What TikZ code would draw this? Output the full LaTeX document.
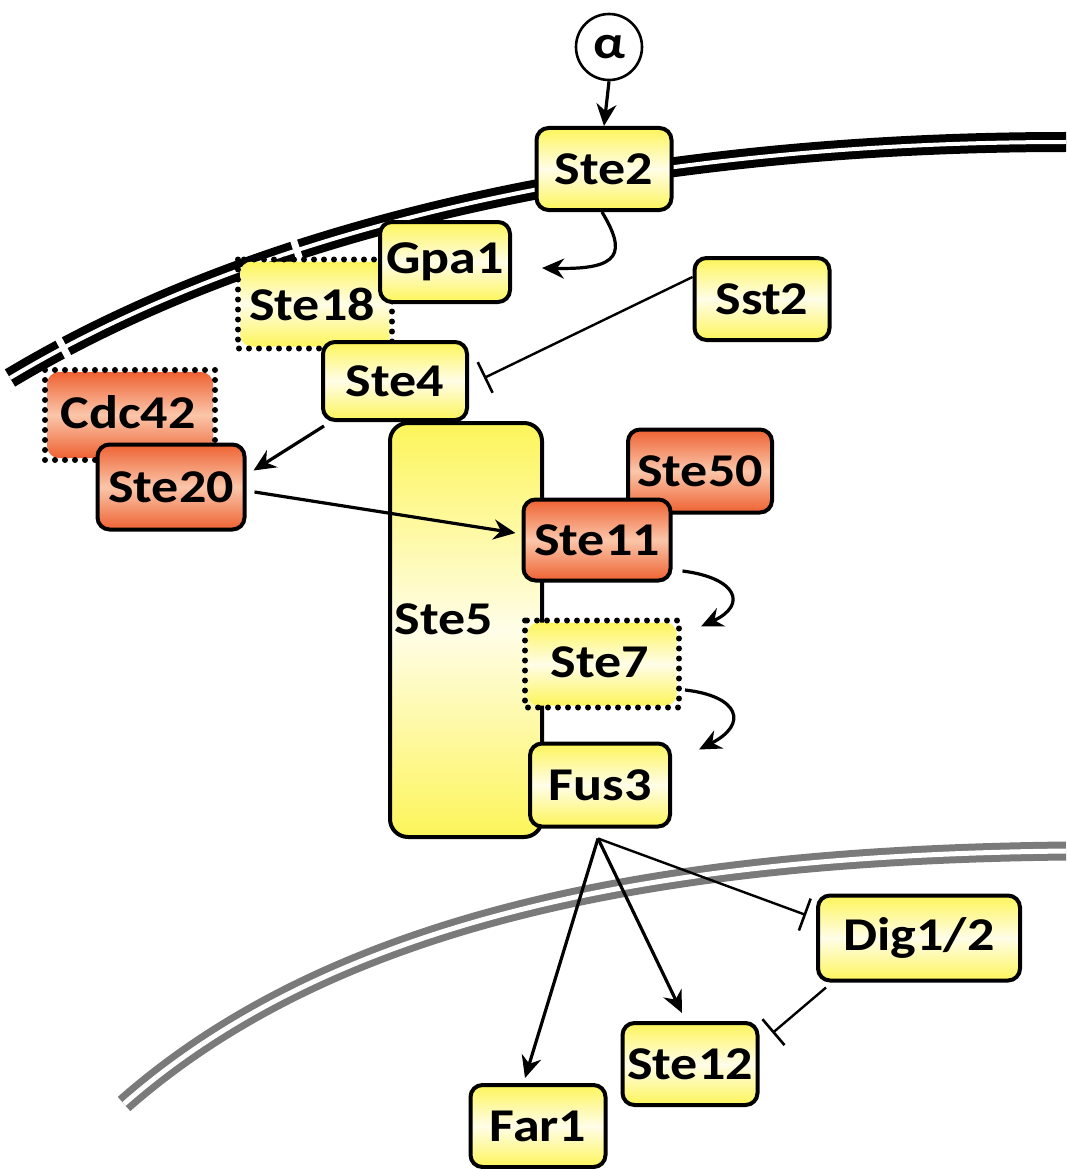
\documentclass[tikz,border=0pt]{standalone}
\usepackage{fontspec}
\setmainfont{Carlito}
\newfontfamily\lblfont[FakeStretch=1.15]{Carlito}
\usetikzlibrary{arrows.meta,shapes.geometric,calc}
\definecolor{yel}{HTML}{FDF55A}
\definecolor{yelc}{HTML}{FFFDE8}
\definecolor{org}{HTML}{EE6232}
\definecolor{orgc}{HTML}{FBC6AA}
\definecolor{nucgray}{HTML}{7A7A7A}
\tikzset{
  x=1pt,y=-1pt,
  lbl/.style={font=\lblfont\bfseries\fontsize{47}{52}\selectfont},
  prot/.style={lbl,draw=black,line width=4pt,rounded corners=12pt,inner sep=0pt},
  yprot/.style={prot,top color=yel,bottom color=yel,middle color=yelc},
  oprot/.style={prot,top color=org,bottom color=org,middle color=orgc},
  dotbox/.style={dash pattern=on 0pt off 10pt,line cap=round,line width=6pt},
  act/.style={line width=3.2pt,-{Stealth[length=22pt,width=20pt]}},
  inh/.style={line width=2.4pt,-{Bar[width=34pt,line width=2.6pt]}},
  gapmark/.style={fill=white,inner sep=0pt,minimum width=7pt,minimum height=34pt,sloped},
}
\begin{document}
\begin{tikzpicture}
\useasboundingbox[fill=white] (0,0) rectangle (1066,1169);
% plasma membrane
\draw[line width=8pt,double=white,double distance=4pt]
  (1066,142) .. controls (700,142) and (300,204) .. (10,378)
  node[gapmark,pos=0.70] (gapA) {}
  node[gapmark,pos=0.94] (gapB) {};
% nuclear membrane
\draw[line width=7pt,nucgray,double=white,double distance=5pt]
  (1066,851) .. controls (700,855) and (350,905) .. (124,1104);
% alpha factor
\node[lbl,draw,circle,line width=2.6pt,fill=white,minimum size=66pt,inner sep=0pt] (alpha) at (609,47) {α};
% nodes
\node[yprot,minimum width=135pt,minimum height=82pt] (Ste2) at (604,169) {Ste2};
\node[yprot,draw=none,minimum width=150pt,minimum height=85pt] (Ste18) at (315,304) {};
\draw[dotbox] (Ste18.north west) rectangle (Ste18.south east);
\node[lbl] (Ste18t) at (312,304) {Ste18};
\node[yprot,minimum width=130pt,minimum height=80pt] (Gpa1) at (445,262) {Gpa1};
\node[yprot,minimum width=135pt,minimum height=82pt] (Sst2) at (762,299) {Sst2};
\node[yprot,minimum width=152pt,minimum height=414pt,rounded corners=18pt] (Ste5) at (466,630) {};
\node[lbl,anchor=west] (Ste5t) at (391,619) {Ste5};
\node[yprot,minimum width=144pt,minimum height=78pt] (Ste4) at (395,381) {Ste4};
\node[oprot,draw=none,minimum width=166pt,minimum height=86pt] (Cdc42) at (130,415) {};
\draw[dotbox] (Cdc42.north west) rectangle (Cdc42.south east);
\node[lbl] (Cdc42t) at (128,412) {Cdc42};
\node[oprot,minimum width=147pt,minimum height=85pt] (Ste20) at (171,487) {Ste20};
\node[oprot,minimum width=144pt,minimum height=83pt] (Ste50) at (700,471) {Ste50};
\node[oprot,minimum width=147pt,minimum height=81pt] (Ste11) at (597,540) {Ste11};
\node[yprot,draw=none,minimum width=150pt,minimum height=83pt] (Ste7) at (602,664) {};
\draw[dotbox] (Ste7.north west) rectangle (Ste7.south east);
\node[lbl] (Ste7t) at (600,662) {Ste7};
\node[yprot,minimum width=140pt,minimum height=83pt] (Fus3) at (600,785) {Fus3};
\node[yprot,minimum width=202pt,minimum height=85pt] (Dig) at (919,938) {Dig1/2};
\node[yprot,minimum width=135pt,minimum height=82pt] (Ste12) at (690,1064) {Ste12};
\node[yprot,minimum width=135pt,minimum height=82pt] (Far1) at (538,1126) {Far1};
% connectors
\draw[act] (alpha.south) -- (Ste2.north);
\draw[act] ([xshift=-2pt]Ste2.south) .. controls ($(Ste2.south)+(22,40)$) and ($(Gpa1.east)+(110,8)$) .. ($(Gpa1.east)+(30,6)$);
\draw[inh] ([yshift=22pt]Sst2.west) -- ($(Ste4.east)+(15,-3)$);
\draw[act] ($(Ste4.south west)+(3,4)$) -- ($(Ste20.north east)+(7,28)$);
\draw[act] ($(Ste20.east)+(8,5)$) -- ($(Ste11.west)+(-6,-7)$);
\draw[act] ($(Ste11.east)+(10,31)$) .. controls ($(Ste11.east)+(65,38)$) and ($(Ste11.east)+(75,65)$) .. ($(Ste7.north east)+(22,6)$);
\draw[act] ($(Ste7.east)+(6,26)$) .. controls ($(Ste7.east)+(60,32)$) and ($(Ste7.east)+(70,60)$) .. ($(Fus3.north east)+(27,8)$);
\coordinate (fan) at ($(Fus3.south)+(-2,10)$);
\draw[act] (fan) -- ($(Far1.north)+(-13,-5)$);
\draw[act] (fan) -- ($(Ste12.north)+(-8,-8)$);
\draw[inh] (fan) -- ($(Dig.west)+(-10,-23)$);
\draw[inh] ($(Dig.south west)+(10,5)$) -- ($(Ste12.north east)+(13,12)$);
\end{tikzpicture}
\end{document}
